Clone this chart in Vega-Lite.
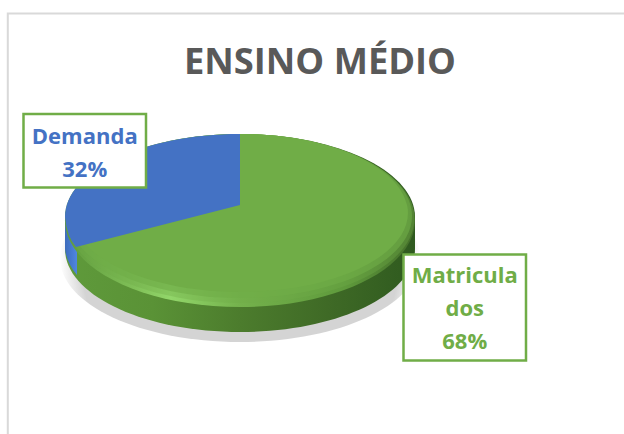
{
"$schema":"https://vega.github.io/schema/vega-lite/v6.json",
"width":624,"height":434,"padding":0,"autosize":{"type":"none"},
"background":"white",
"config":{"view":{"stroke":null}},
"title":{"text":"ENSINO MÉDIO","font":"Open Sans","fontSize":36.3,"fontWeight":"bold","color":"#595959","frame":"group","anchor":"middle","orient":"top","offset":-74,"dx":8,"dy":36,"baseline":"alphabetic"},
"data":{"values":[
{"categoria":"Demanda","valor":32,"rotulo":"Demanda\n32%"},
{"categoria":"Matriculados","valor":68,"rotulo":"Matricula\ndos\n68%"}
]},
"layer":[
{"transform":[{"filter":"datum.categoria==='Matriculados'"}],
 "mark":{"type":"point","filled":false,"opacity":1,"size":4,"shape":"M312,-203.5 L-304.2,-203.5 L-304.2,217","stroke":"#d9d9d9","strokeWidth":2}},
{"transform":[{"filter":"datum.categoria==='Matriculados'"}],
 "mark":{"type":"point","filled":true,"opacity":1,"size":4,"strokeWidth":0,
 "shape":"M-252,41 A180,84 0 1 0 108,41 A180,84 0 1 0 -252,41 Z",
 "fill":{"gradient":"radial","x1":0.5,"y1":0.5,"x2":0.5,"y2":0.5,"r1":0,"r2":0.5,"stops":[{"offset":0,"color":"#d4d4d4"},{"offset":0.88,"color":"#d4d4d4"},{"offset":1,"color":"#ffffff"}]}}},
{"transform":[{"filter":"datum.categoria==='Matriculados'"}],
 "mark":{"type":"point","filled":true,"opacity":1,"size":4,"strokeWidth":0,
 "shape":"M-247,0 L-247,32 A175,83 0 0 0 103,32 L103,0 A175,83 0 0 0 -247,0 Z",
 "fill":{"gradient":"linear","x1":0,"y1":0,"x2":1,"y2":0,"stops":[{"offset":0,"color":"#5f9a3b"},{"offset":0.25,"color":"#5a9236"},{"offset":0.5,"color":"#4c7c2d"},{"offset":0.75,"color":"#3f6a26"},{"offset":1,"color":"#2f5a1f"}]}}},
{"transform":[{"filter":"datum.categoria==='Demanda'"}],
 "mark":{"type":"point","filled":true,"opacity":1,"size":4,"strokeWidth":0,
 "shape":"M-247,0 L-247,32 A175,83 0 0 0 -235,58 L-235,28 Z",
 "fill":{"gradient":"linear","x1":0,"y1":0,"x2":1,"y2":0,"stops":[{"offset":0,"color":"#3d6cbc"},{"offset":1,"color":"#4f86e0"}]}}},
{"transform":[{"filter":"datum.categoria==='Matriculados'"}],
 "mark":{"type":"point","filled":true,"opacity":1,"size":4,"strokeWidth":0,
 "shape":"M-247,3.5 A175,86.5 0 1 0 103,3.5 A175,86.5 0 1 0 -247,3.5 Z",
 "fill":{"gradient":"linear","x1":0,"y1":0,"x2":1,"y2":0,"stops":[{"offset":0,"color":"#5f9a3b"},{"offset":0.2,"color":"#80c058"},{"offset":0.3,"color":"#92d66a"},{"offset":0.5,"color":"#74b24c"},{"offset":0.8,"color":"#5f9a3c"},{"offset":1,"color":"#446f2a"}]}}},
{"transform":[{"filter":"datum.categoria==='Matriculados'"}],
 "mark":{"type":"point","filled":true,"opacity":0.35,"size":4,"strokeWidth":0,
 "shape":"M-246.5,1.5 A174.5,84.5 0 1 0 102.5,1.5 A174.5,84.5 0 1 0 -246.5,1.5 Z","fill":"#70ad47"}},
{"transform":[{"filter":"datum.categoria==='Matriculados'"}],
 "mark":{"type":"point","filled":true,"opacity":0.6,"size":4,"strokeWidth":0,
 "shape":"M-244,-1 A172,82 0 1 0 100,-1 A172,82 0 1 0 -244,-1 Z","fill":"#70ad47"}},
{"mark":{"type":"point","filled":true,"opacity":1,"size":4,"strokeWidth":0},
 "encoding":{
  "shape":{"field":"categoria","type":"nominal","legend":null,"scale":{"domain":["Matriculados","Demanda"],"range":["M-72,-12 L-72,-83 A168,79 0 1 1 -234,17 Z","M-72,-12 L-72,-83 A175,83 0 0 0 -247,0 Q-245,20 -236,30 Z"]}},
  "fill":{"field":"categoria","type":"nominal","legend":null,"scale":{"domain":["Demanda","Matriculados"],"range":["#4472c4","#70ad47"]}},
  "order":{"field":"valor","sort":"descending"}
 }},
{"mark":{"type":"point","filled":true,"opacity":1,"size":4,"fill":"white","stroke":"#70ad47","strokeWidth":2.5},
 "encoding":{
  "x":{"field":"categoria","type":"nominal","axis":null,"scale":{"type":"point","domain":["Demanda","Matriculados"],"range":[84.75,464.75],"padding":0}},
  "y":{"field":"categoria","type":"nominal","axis":null,"scale":{"type":"point","domain":["Demanda","Matriculados"],"range":[136.75,275.5],"padding":0}},
  "shape":{"field":"categoria","type":"nominal","legend":null,"scale":{"domain":["Demanda","Matriculados"],"range":["M-61.25,-22.75 H61.25 V50.75 H-61.25 Z","M-61.25,-21 H61.25 V85 H-61.25 Z"]}}
 }},
{"mark":{"type":"text","font":"Open Sans","fontWeight":"bold","fontSize":22,"lineBreak":"\n","lineHeight":33,"align":"center","baseline":"middle"},
 "encoding":{
  "x":{"field":"categoria","type":"nominal"},
  "y":{"field":"categoria","type":"nominal"},
  "text":{"field":"rotulo"},
  "fill":{"field":"categoria","type":"nominal","legend":null}
 }}
],
"resolve":{"scale":{"shape":"independent"}}
}
